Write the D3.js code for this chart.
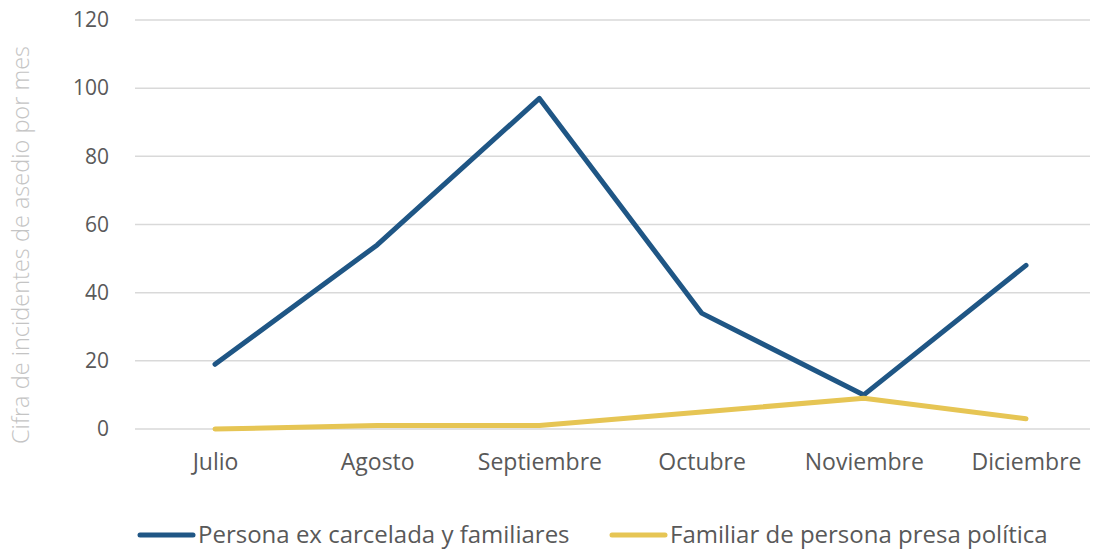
<!DOCTYPE html>
<html>
<head>
<meta charset="utf-8">
<script src="https://cdn.jsdelivr.net/npm/d3@7"></script>
<style>
	body { margin: 0; background: #fff; }
	text { font-family: "Open Sans", Lato, sans-serif; }
</style>
</head>
<body>
<script>
// months on the x axis
var months = ['Julio', 'Agosto', 'Septiembre', 'Octubre', 'Noviembre', 'Diciembre'];
// incidents per month
var exCarcelada = [19, 54, 97, 34, 10, 48];
var familiarPresa = [0, 1, 1, 5, 9, 3];
var yTicks = [0, 20, 40, 60, 80, 100, 120];
var seriesNames = ['Persona ex carcelada y familiares', 'Familiar de persona presa política'];
var seriesColors = ['#1f5685', '#e6c554'];

var width = 1099, height = 550;

var svg = d3.select('body').append('svg')
	.attr('width', width)
	.attr('height', height);

var x = d3.scalePoint()
	.domain(months)
	.range([215, 1026]);

var y = d3.scaleLinear()
	.domain([0, 120])
	.range([429, 20]);

// gridlines
svg.append('g')
	.selectAll('line')
	.data(yTicks)
	.enter().append('line')
	.attr('x1', 135)
	.attr('x2', 1090)
	.attr('y1', function (d) { return y(d); })
	.attr('y2', function (d) { return y(d); })
	.attr('stroke', '#d9d9d9')
	.attr('stroke-width', 1.5);

// y axis labels
var yAxis = d3.axisLeft(y)
	.tickValues(yTicks)
	.tickSize(0)
	.tickPadding(0);

svg.append('g')
	.attr('transform', 'translate(109,0)')
	.call(yAxis)
	.call(function (g) { g.select('.domain').remove(); })
	.selectAll('text')
	.attr('fill', '#595959')
	.style('font-size', '21px')
	.style('font-family', '"Open Sans", sans-serif');

// x axis labels
var xAxis = d3.axisBottom(x).tickSize(0).tickPadding(0);

svg.append('g')
	.attr('transform', 'translate(0,454)')
	.call(xAxis)
	.call(function (g) { g.select('.domain').remove(); })
	.selectAll('text')
	.attr('fill', '#595959')
	.style('font-size', '23px')
	.style('font-family', '"Open Sans", sans-serif');

// y axis title
svg.append('text')
	.attr('transform', 'translate(29,245) rotate(-90)')
	.attr('text-anchor', 'middle')
	.attr('fill', '#c4c4c4')
	.style('font-size', '23.5px')
	.style('font-weight', 300)
	.text('Cifra de incidentes de asedio por mes');

var line = d3.line()
	.x(function (d, i) { return x(months[i]); })
	.y(function (d) { return y(d); });

[exCarcelada, familiarPresa].forEach(function (s, i) {
	svg.append('path')
		.datum(s)
		.attr('d', line)
		.attr('fill', 'none')
		.attr('stroke', seriesColors[i])
		.attr('stroke-width', 5)
		.attr('stroke-linecap', 'round')
		.attr('stroke-linejoin', 'round');
});

// legend
var legendX = [140, 612];
var legend = svg.selectAll('.legend')
	.data(seriesNames)
	.enter().append('g')
	.attr('class', 'legend')
	.attr('transform', function (d, i) { return 'translate(' + legendX[i] + ',535)'; });

legend.append('line')
	.attr('x1', 0)
	.attr('x2', 53)
	.attr('stroke', function (d, i) { return seriesColors[i]; })
	.attr('stroke-width', 5)
	.attr('stroke-linecap', 'round');

legend.append('text')
	.attr('x', 58)
	.attr('dy', '0.35em')
	.attr('fill', '#595959')
	.style('font-size', '24px')
	.text(function (d) { return d; });
</script>
</body>
</html>
